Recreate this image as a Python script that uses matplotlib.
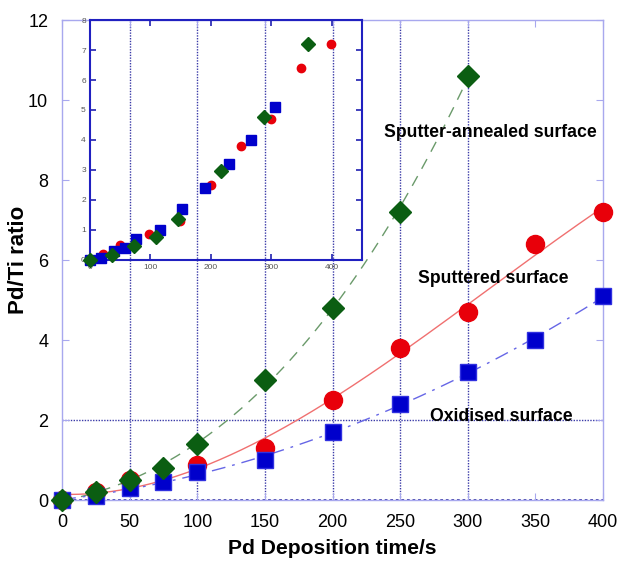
import numpy as np
import matplotlib.pyplot as plt

plt.rcParams['font.family'] = ['Liberation Sans', 'DejaVu Sans']

# main chart data
green_x = [0, 25, 50, 75, 100, 150, 200, 250, 300]
green_y = [0, 0.2, 0.5, 0.8, 1.4, 3.0, 4.8, 7.2, 10.6]
red_x = [0, 25, 50, 100, 150, 200, 250, 300, 350, 400]
red_y = [0, 0.2, 0.5, 0.87, 1.3, 2.5, 3.8, 4.7, 6.4, 7.2]
blue_x = [0, 25, 50, 75, 100, 150, 200, 250, 300, 350, 400]
blue_y = [0, 0.1, 0.3, 0.45, 0.7, 1.0, 1.7, 2.4, 3.2, 4.0, 5.1]

# inset data (x positions as plotted in the inset)
in_green_x = [0, 37, 73, 109, 145, 217, 288, 360]
in_green_y = [0, 0.17, 0.45, 0.75, 1.37, 2.96, 4.78, 7.2]
in_red_x = [0, 22, 49, 98, 149, 200, 249, 299, 349, 399]
in_red_y = [0, 0.2, 0.5, 0.87, 1.3, 2.5, 3.8, 4.7, 6.4, 7.2]
in_blue_x = [0, 19, 39, 58, 76, 115, 153, 191, 230, 266, 306]
in_blue_y = [0, 0.08, 0.3, 0.4, 0.7, 1.0, 1.7, 2.4, 3.2, 4.0, 5.1]

labels = ["Sputter-annealed surface", "Sputtered surface", "Oxidised surface"]
label_pos = [(317, 9.2), (319, 5.55), (325, 2.1)]

GREEN = '#0b5e12'
RED = '#e8000a'
BLUE = '#0000cc'
SPINE = '#a8a8ee'
GRID = '#3a3aa8'

fig = plt.figure(figsize=(6.19, 5.62), dpi=100)
ax = fig.add_axes([0.1002, 0.1103, 0.874, 0.854])

ax.set_xlim(0, 400)
ax.set_ylim(0, 12)

# grid
for gx in [50, 100, 150, 200, 250, 300]:
    ax.axvline(gx, color=GRID, lw=1, ls=(0, (1, 1)), zorder=1)
ax.axhline(2, color=GRID, lw=1, ls=(0, (1, 1)), zorder=1)
ax.axhline(0, color=GRID, lw=2, ls=(0, (1, 1)), zorder=1)

# fit curves
xs = np.linspace(0, 300, 200)
pg = np.polyfit(green_x, green_y, 3)
ax.plot(xs, np.polyval(pg, xs), color='#6a9a6a', lw=1, ls=(0, (8, 6)), zorder=2)
xs = np.linspace(0, 400, 200)
pr = np.polyfit(red_x, red_y, 3)
ax.plot(xs, np.polyval(pr, xs), color='#f07070', lw=1, zorder=2)
pb = np.polyfit(blue_x, blue_y, 2)
ax.plot(xs, np.polyval(pb, xs), color='#6666e6', lw=1, ls=(0, (10, 5, 2, 5)), zorder=2)

ax.plot(red_x, red_y, 'o', color=RED, ms=13, mec=RED, ls='none', clip_on=False, zorder=4)
ax.plot(blue_x, blue_y, 's', color=BLUE, ms=12, mec='#3030e0', ls='none', clip_on=False, zorder=5)
ax.plot(green_x, green_y, 'D', color=GREEN, ms=11.5, mec=GREEN, ls='none', clip_on=False, zorder=6)

for txt, (tx, ty) in zip(labels, label_pos):
    ax.text(tx, ty, txt, ha='center', va='center', fontsize=12.7, fontweight='bold', zorder=7)

ax.set_xticks([0, 50, 100, 150, 200, 250, 300, 350, 400])
ax.set_yticks([0, 2, 4, 6, 8, 10, 12])
ax.tick_params(direction='in', length=5, color=SPINE, labelsize=13, pad=10,
               top=True, right=True)
for s in ax.spines.values():
    s.set_color(SPINE)
    s.set_linewidth(1)
ax.set_xlabel('Pd Deposition time/s', fontsize=15.2, fontweight='bold', va='center')
ax.set_ylabel('Pd/Ti ratio', fontsize=16, fontweight='bold', va='center')
ax.xaxis.set_label_coords(0.5, -0.1)
ax.yaxis.set_label_coords(-0.081, 0.5)

# inset
ins = fig.add_axes([0.1454, 0.5374, 0.4394, 0.427])
ins.patch.set_alpha(0)
ins.set_xlim(0, 450)
ins.set_ylim(0, 8)
ins.plot(in_red_x, in_red_y, 'o', color=RED, ms=6, ls='none', clip_on=False, zorder=4)
ins.plot(in_blue_x, in_blue_y, 's', color=BLUE, ms=7, ls='none', clip_on=False, zorder=5)
ins.plot(in_green_x, in_green_y, 'D', color=GREEN, ms=7, ls='none', clip_on=False, zorder=6)
ins.set_xticks([0, 100, 200, 300, 400])
ins.set_yticks(range(0, 9))
ins.tick_params(direction='in', length=4, color='#2020b0', width=1.2, labelsize=6,
                labelcolor='#555555', top=True, right=True, pad=3)
for s in ins.spines.values():
    s.set_color('#2020c0')
    s.set_linewidth(1.5)

fig.savefig('out.png', dpi=100)
